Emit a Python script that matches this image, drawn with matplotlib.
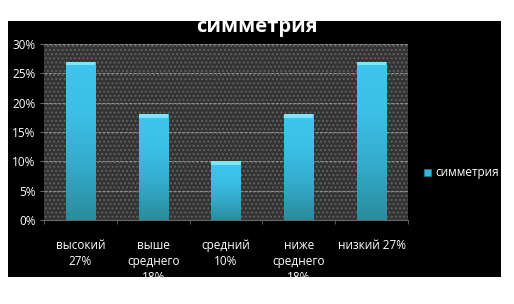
import numpy as np
import matplotlib.pyplot as plt
from matplotlib.patches import Rectangle
from matplotlib.colors import LinearSegmentedColormap

# data
categories = ["высокий\n27%", "выше\nсреднего\n18%", "средний\n10%", "ниже\nсреднего\n18%", "низкий 27%"]
values = [0.27, 0.18, 0.10, 0.18, 0.27]
series_name = "симметрия"
yticks = [0, 0.05, 0.10, 0.15, 0.20, 0.25, 0.30]
ytick_labels = ["0%", "5%", "10%", "15%", "20%", "25%", "30%"]

plt.rcParams['font.family'] = ['Open Sans', 'DejaVu Sans']

W, H = 514, 304
fig = plt.figure(figsize=(W / 100, H / 100), dpi=100, facecolor='white')

# black chart area (the picture is a cut from a slide)
black = Rectangle((8 / W, 1 - 277 / H), 493 / W, 256 / H, transform=fig.transFigure,
                  facecolor='black', edgecolor='none', zorder=-1)
fig.patches.append(black)

ax = fig.add_axes([44 / W, 1 - 220 / H, 364 / W, 176 / H])
ax.set_facecolor('#333333')
bg = Rectangle((0, 0), 1, 1, transform=ax.transAxes, facecolor='#333333',
               edgecolor='#606060', hatch='....', linewidth=0, zorder=0)
ax.add_patch(bg)

x = np.arange(len(values))
bars = ax.bar(x, values, width=0.4, color='#35b5d8', zorder=3, edgecolor='none')

# vertical gradient inside every bar
cmap = LinearSegmentedColormap.from_list('bar', ['#2a8c9c', '#34aacb', '#3bbfe6', '#3fc6ee'])
grad = np.linspace(0, 1, 100).reshape(-1, 1)
for b in bars:
    x0, w, h = b.get_x(), b.get_width(), b.get_height()
    im = ax.imshow(grad, cmap=cmap, origin='lower', aspect='auto',
                   extent=(x0, x0 + w, 0, h), zorder=4)
    im.set_clip_path(b)
    ax.add_patch(Rectangle((x0, h - 0.006), w, 0.006, facecolor='#7fe6ff',
                           edgecolor='none', zorder=5))

ax.set_xlim(-0.5, len(values) - 0.5)
ax.set_ylim(0, 0.30)
ax.set_yticks(yticks)
ax.set_yticklabels(ytick_labels)
ax.set_xticks(x)
ax.set_xticklabels(categories, linespacing=1.3)
ax.set_xticks(np.arange(len(values) + 1) - 0.5, minor=True)
ax.grid(axis='y', color='#8a8a8a', linestyle=(0, (3, 1)), linewidth=0.8, zorder=1)
ax.tick_params(axis='x', which='major', length=0, pad=14, colors='white', labelsize=8.5)
ax.tick_params(axis='x', which='minor', length=3, color='#666666')
ax.tick_params(axis='y', length=3, color='#666666', colors='white', labelsize=8.5, pad=3)
for t in ax.get_yticklabels():
    t.set_color('white')
for t in ax.get_xticklabels():
    t.set_color('white')
    t.set_clip_path(black)
for s in ax.spines.values():
    s.set_visible(False)
ax.spines['bottom'].set_visible(True)
ax.spines['bottom'].set_color('#666666')

title = fig.text(257 / W, 1 - 32 / H, series_name, color='white', fontsize=14.5,
                 fontweight='bold', ha='center', va='baseline')
title.set_clip_path(black)

# legend
fig.patches.append(Rectangle((424 / W, 1 - 176 / H), 7 / W, 7 / H, transform=fig.transFigure,
                             facecolor='#35b5d8', edgecolor='#1f7f99', linewidth=0.5))
fig.text(435 / W, 1 - 172.5 / H, series_name, color='white', fontsize=8.5,
         ha='left', va='center')

fig.savefig('out.png', dpi=100, facecolor='white')
